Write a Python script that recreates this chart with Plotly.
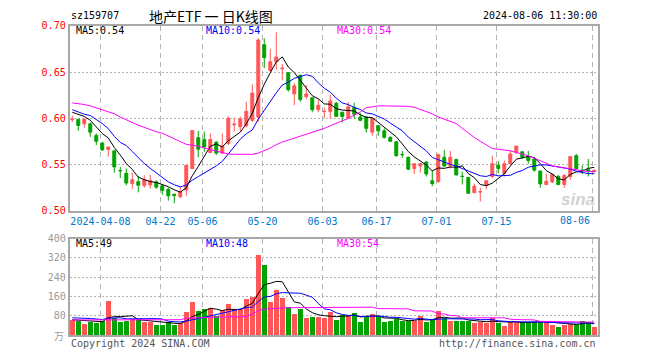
import plotly.graph_objects as go

# ---------------- data ----------------
tick_idx = [5, 15, 22, 32, 42, 51, 61, 71, 87]
tick_text = ["2024-04-08", "04-22", "05-06", "05-20", "06-03", "06-17", "07-01", "07-15", "08-06"]

opens = [0.5986,0.5990,0.5941,0.5941,0.5816,0.5733,0.5663,0.5649,0.5437,0.5406,
         0.5295,0.5316,0.5274,0.5281,0.5313,0.5271,0.5233,0.5181,0.5153,0.5226,
         0.5458,0.5792,0.5771,0.5632,0.5743,0.5625,0.5729,0.5930,0.5910,0.5920,
         0.5979,0.6014,0.6795,0.6517,0.6611,0.6535,0.6493,0.6264,0.6465,0.6233,
         0.6222,0.6094,0.6073,0.6073,0.6163,0.6066,0.6003,0.6118,0.6014,0.6014,
         0.5851,0.5920,0.5865,0.5795,0.5747,0.5611,0.5580,0.5458,0.5486,0.5528,
         0.5326,0.5319,0.5580,0.5486,0.5556,0.5375,0.5361,0.5198,0.5205,0.5274,
         0.5372,0.5493,0.5406,0.5510,0.5632,0.5639,0.5590,0.5562,0.5431,0.5285,
         0.5313,0.5372,0.5285,0.5372,0.5597,0.5441,0.5445,0.5424]
highs = [0.6031,0.5990,0.6003,0.5955,0.5837,0.5747,0.5691,0.5656,0.5476,0.5458,
         0.5413,0.5378,0.5385,0.5392,0.5330,0.5292,0.5250,0.5181,0.5257,0.5493,
         0.5868,0.5865,0.5858,0.5837,0.5753,0.5837,0.6021,0.6007,0.6021,0.6180,
         0.6368,0.6865,0.6865,0.6750,0.6930,0.6587,0.6500,0.6380,0.6472,0.6361,
         0.6222,0.6205,0.6118,0.6257,0.6177,0.6073,0.6177,0.6170,0.6059,0.6021,
         0.6003,0.5927,0.5892,0.5806,0.5753,0.5649,0.5587,0.5517,0.5517,0.5538,
         0.5441,0.5622,0.5660,0.5649,0.5562,0.5424,0.5361,0.5295,0.5250,0.5326,
         0.5597,0.5538,0.5545,0.5649,0.5701,0.5639,0.5649,0.5580,0.5431,0.5400,
         0.5396,0.5389,0.5400,0.5587,0.5615,0.5493,0.5562,0.5451]
lows = [0.5962,0.5865,0.5900,0.5799,0.5712,0.5649,0.5587,0.5413,0.5354,0.5278,
        0.5240,0.5201,0.5250,0.5240,0.5240,0.5174,0.5111,0.5083,0.5139,0.5163,
        0.5458,0.5580,0.5639,0.5625,0.5604,0.5615,0.5712,0.5858,0.5858,0.5900,
        0.5962,0.5962,0.6542,0.6500,0.6528,0.6413,0.6290,0.6142,0.6180,0.6205,
        0.6066,0.6066,0.6003,0.5997,0.6014,0.5955,0.5997,0.5997,0.5969,0.5847,
        0.5812,0.5812,0.5781,0.5747,0.5587,0.5573,0.5441,0.5399,0.5413,0.5372,
        0.5267,0.5302,0.5476,0.5458,0.5382,0.5285,0.5184,0.5191,0.5101,0.5233,
        0.5354,0.5406,0.5372,0.5503,0.5615,0.5562,0.5510,0.5424,0.5250,0.5278,
        0.5302,0.5278,0.5250,0.5337,0.5451,0.5399,0.5372,0.5413]
closes = [0.5990,0.5924,0.5990,0.5851,0.5753,0.5660,0.5691,0.5476,0.5434,0.5302,
          0.5337,0.5278,0.5337,0.5330,0.5257,0.5222,0.5163,0.5166,0.5208,0.5493,
          0.5868,0.5667,0.5691,0.5771,0.5625,0.5701,0.6000,0.5937,0.5993,0.6076,
          0.6274,0.6847,0.6656,0.6611,0.6663,0.6542,0.6309,0.6351,0.6205,0.6264,
          0.6094,0.6142,0.6076,0.6188,0.6021,0.6021,0.6125,0.6045,0.5979,0.5892,
          0.5997,0.5865,0.5795,0.5753,0.5597,0.5608,0.5451,0.5510,0.5510,0.5399,
          0.5295,0.5608,0.5486,0.5580,0.5389,0.5372,0.5191,0.5267,0.5208,0.5326,
          0.5510,0.5458,0.5510,0.5615,0.5701,0.5580,0.5545,0.5441,0.5292,0.5320,
          0.5396,0.5285,0.5382,0.5587,0.5458,0.5438,0.5434,0.5437]

ma5 = [0.6066,0.6045,0.6021,0.5980,0.5902,0.5836,0.5789,0.5686,0.5603,0.5513,
       0.5448,0.5365,0.5338,0.5317,0.5308,0.5285,0.5262,0.5228,0.5203,0.5250,
       0.5380,0.5480,0.5585,0.5698,0.5724,0.5691,0.5758,0.5807,0.5851,0.5941,
       0.6056,0.6225,0.6369,0.6493,0.6610,0.6664,0.6556,0.6495,0.6414,0.6334,
       0.6245,0.6211,0.6156,0.6153,0.6104,0.6090,0.6086,0.6080,0.6038,0.6012,
       0.6008,0.5956,0.5906,0.5860,0.5801,0.5724,0.5641,0.5584,0.5535,0.5496,
       0.5433,0.5464,0.5460,0.5474,0.5472,0.5487,0.5404,0.5360,0.5285,0.5273,
       0.5300,0.5354,0.5402,0.5484,0.5559,0.5573,0.5590,0.5576,0.5512,0.5436,
       0.5399,0.5347,0.5335,0.5394,0.5422,0.5430,0.5460,0.5471]
ma10 = [0.6094,0.6070,0.6045,0.6031,0.5990,0.5944,0.5890,0.5806,0.5740,0.5707,
        0.5642,0.5577,0.5512,0.5460,0.5410,0.5366,0.5314,0.5283,0.5260,0.5279,
        0.5332,0.5371,0.5407,0.5451,0.5487,0.5535,0.5619,0.5696,0.5775,0.5833,
        0.5874,0.5992,0.6088,0.6172,0.6276,0.6360,0.6391,0.6432,0.6453,0.6472,
        0.6454,0.6384,0.6326,0.6283,0.6219,0.6167,0.6149,0.6118,0.6096,0.6058,
        0.6049,0.6021,0.5993,0.5949,0.5907,0.5866,0.5798,0.5745,0.5698,0.5649,
        0.5578,0.5553,0.5522,0.5504,0.5484,0.5460,0.5434,0.5410,0.5380,0.5372,
        0.5394,0.5379,0.5381,0.5385,0.5416,0.5437,0.5472,0.5489,0.5498,0.5497,
        0.5486,0.5469,0.5456,0.5453,0.5429,0.5414,0.5403,0.5403]
ma30 = [0.6167,0.6160,0.6150,0.6135,0.6115,0.6094,0.6075,0.6050,0.6014,0.5980,
        0.5955,0.5927,0.5900,0.5875,0.5855,0.5840,0.5810,0.5775,0.5747,0.5719,
        0.5710,0.5700,0.5680,0.5665,0.5650,0.5630,0.5615,0.5612,0.5610,0.5610,
        0.5612,0.5625,0.5650,0.5680,0.5715,0.5745,0.5765,0.5785,0.5806,0.5830,
        0.5850,0.5870,0.5892,0.5920,0.5945,0.5970,0.6000,0.6035,0.6070,0.6115,
        0.6128,0.6135,0.6135,0.6135,0.6135,0.6135,0.6130,0.6120,0.6094,0.6075,
        0.6050,0.6014,0.5990,0.5972,0.5944,0.5892,0.5840,0.5795,0.5753,0.5712,
        0.5674,0.5667,0.5660,0.5650,0.5632,0.5615,0.5597,0.5570,0.5545,0.5515,
        0.5486,0.5475,0.5465,0.5455,0.5441,0.5432,0.5424,0.5428]

volume = [64,61,49,57,50,61,145,71,57,61, 68,64,57,57,45,45,55,45,50,97,
          137,101,108,115,79,105,129,109,108,150, 161,334,293,137,189,155,117,91,111,71,
          75,75,71,97,65,84,79,95,55,79, 89,79,55,59,68,59,59,61,81,55,
          64,101,71,61,61,61,61,51,55,51, 73,51,41,55,57,57,55,55,57,55,
          45,37,45,48,45,61,55,35]
vma5 = [64,62,60,58,56.2,55.6,72.4,76.8,76.8,79, 80.4,64.2,61.4,61.4,58.2,53.6,51.8,49.4,48,58.4,
        76.8,86,98.6,111.6,108,101.6,107.2,107.4,106,120.2, 131.4,172.4,209.2,215,222.8,221.6,178.2,137.8,132.6,109,
        93,84.6,80.6,77.8,76.6,78.4,79.2,84,75.6,78.4, 79.4,79.4,71.4,72.2,70,64,60,61.2,65.6,63,
        64,72.4,74.4,70.4,71.6,71,63,59,57.8,55.8, 58.2,56.2,54.2,54.2,55.4,52.2,53,55.8,56.2,55.8,
        53.4,49.8,47.8,46,44,47.2,50.8,48.8]
vma10 = [72,72,71,69,67,65,70,72,72,67.6, 68,68.3,69.1,69.1,68.6,67,58,55.4,54.7,58.3,
         65.2,68.9,74,79.8,83.2,89.2,96.6,103,108.8,114.1, 116.5,139.8,158.3,160.5,171.5,176.5,175.3,173.5,173.8,165.9,
         157.3,131.4,109.2,105.2,92.8,85.7,81.9,82.3,76.7,77.5, 78.9,79.3,77.7,73.9,74.2,71.7,69.7,66.3,68.9,66.5,
         64,66.2,67.8,68,67.3,67.5,67.7,66.7,64.1,63.7, 64.6,59.6,56.6,56,55.6,55.2,54.6,55,55.2,55.6,
         52.8,51.4,51.8,51.1,49.9,50.3,50.3,48.3]
vma30 = [63,63,63,62,62,62,63,63,64,64, 64,64,64,64,64,64,64,64,64,70,
         72,73,73,74,74,74,74,74,75,77, 88,101,108,110,112,114,114,114,114,114,
         115,115,115,116,117,117,117,117,117,117, 116,110,110,110,110,110,109,101,101,101,
         100,88,88,81,81,72,72,72,72,72, 72,72,72,66,64,64,64,63,57,57,
         57,57,57,57,56,56,55,54]

# ---------------- styling ----------------
W, H = 660, 360
RED = "#ff5757"
GREEN = "#00a300"
MONO = "DejaVu Sans Mono"
PL, PR = 69.7, 598.0            # plot left / right (px)
P_TOP, P_BOT = 20.5, 212.0      # price panel
V_TOP, V_BOT = 240.7, 340.5     # volume panel

def px(x):
    return x / W

def py(y):
    return 1 - y / H

idx = list(range(len(closes)))
xr = [-0.43, 87.62]
grid_pos = [i - 0.3 for i in tick_idx]

fig = go.Figure()

fig.add_trace(go.Candlestick(
    x=idx, open=opens, high=highs, low=lows, close=closes,
    increasing=dict(line=dict(color=RED, width=1), fillcolor=RED),
    decreasing=dict(line=dict(color=GREEN, width=1), fillcolor=GREEN),
    whiskerwidth=0, showlegend=False, hoverinfo="skip",
    xaxis="x", yaxis="y"))

for arr, col in [(ma5, "#000000"), (ma10, "#0000ff"), (ma30, "#ff00ff")]:
    fig.add_trace(go.Scatter(x=idx, y=arr, mode="lines",
                             line=dict(color=col, width=1),
                             showlegend=False, hoverinfo="skip",
                             xaxis="x", yaxis="y"))

bar_colors = [RED if c >= o else GREEN for o, c in zip(opens, closes)]
fig.add_trace(go.Bar(x=idx, y=volume, marker=dict(color=bar_colors, line=dict(width=0)),
                     width=0.76, showlegend=False, hoverinfo="skip",
                     xaxis="x2", yaxis="y2"))
for arr, col in [(vma5, "#000000"), (vma10, "#0000ff"), (vma30, "#ff00ff")]:
    fig.add_trace(go.Scatter(x=idx, y=arr, mode="lines",
                             line=dict(color=col, width=1),
                             showlegend=False, hoverinfo="skip",
                             xaxis="x2", yaxis="y2"))

axis_common = dict(showline=True, mirror=True, linecolor="#a8a8a8", linewidth=2,
                   zeroline=False, ticks="", fixedrange=True)

fig.update_layout(
    width=W, height=H, autosize=False,
    margin=dict(l=0, r=0, t=0, b=0),
    paper_bgcolor="white", plot_bgcolor="white",
    bargap=0,
    xaxis=dict(domain=[px(PL), px(PR)], range=xr, anchor="y",
               tickmode="array", tickvals=grid_pos,
               ticktext=tick_text[:-1] + [""],
               tickfont=dict(family=MONO, size=10, color="#0077cc"),
               showgrid=True, gridcolor="#b4b4b4", griddash="5px,4px", gridwidth=1,
               rangeslider=dict(visible=False), **axis_common),
    yaxis=dict(domain=[py(P_BOT), py(P_TOP)], range=[0.50, 0.70], anchor="x",
               tickmode="array", tickvals=[0.50, 0.55, 0.60, 0.65, 0.70],
               ticktext=["0.50", "0.55", "0.60", "0.65", "0.70"],
               tickfont=dict(family=MONO, size=10, color="#ff0000"),
               showgrid=True, gridcolor="#b4b4b4", griddash="2px,2px", gridwidth=1,
               **axis_common),
    xaxis2=dict(domain=[px(PL), px(PR)], range=xr, anchor="y2",
                tickmode="array", tickvals=grid_pos, showticklabels=False,
                showgrid=True, gridcolor="#b4b4b4", griddash="5px,4px", gridwidth=1,
                **axis_common),
    yaxis2=dict(domain=[py(V_BOT), py(V_TOP)], range=[0, 400], anchor="x2",
                tickmode="array", tickvals=[80, 160, 240, 320, 400],
                ticktext=["80", "160", "240", "320", "400"],
                tickfont=dict(family=MONO, size=10, color="#9a9a9a"),
                showgrid=True, gridcolor="#b4b4b4", griddash="2px,2px", gridwidth=1,
                **axis_common),
)

def ann(text, x, y, color="#000000", size=10, xanchor="left", family=MONO, yanchor="middle"):
    fig.add_annotation(text=text, x=px(x), y=py(y), xref="paper", yref="paper",
                       xanchor=xanchor, yanchor=yanchor, showarrow=False,
                       font=dict(family=family, size=size, color=color))

NB = "\u00a0"
# header
ann("sz159707", 69, 10)
ann("地产ETF" + NB + "一" + NB + "日K线图", 211, 10, size=14, xanchor="center",
    family="Noto Sans CJK SC")
ann("2024-08-06 11:30:00", 599, 10, xanchor="right")
# MA legends price
ann("MA5:0.54", 74, 25)
ann("MA10:0.54", 204, 25, color="#0000ff")
ann("MA30:0.54", 335, 25, color="#ff00ff")
# MA legends volume
ann("MA5:49", 74, 246)
ann("MA10:48", 204, 246, color="#0000ff")
ann("MA30:54", 335, 246, color="#ff00ff")
# last x label shifted left, like the reference
fig.add_annotation(text=tick_text[-1], x=tick_idx[-1] - 0.3, xref="x", y=py(221.5), yref="paper",
                   xanchor="right", yanchor="middle", showarrow=False,
                   font=dict(family=MONO, size=10, color="#0077cc"))
# unit and footer
ann("万", 66, 341, color="#9a9a9a", xanchor="right", family="Noto Sans CJK SC")
ann("Copyright 2024 SINA.COM", 69, 349, color="#555555")
ann("http://finance.sina.com.cn", 598, 349, color="#555555", xanchor="right")
# watermark
ann("<b><i>sina</i></b>", 578, 200, color="rgba(170,170,170,0.55)", size=17,
    xanchor="center", family="Liberation Sans")

fig.write_html("out.html")
